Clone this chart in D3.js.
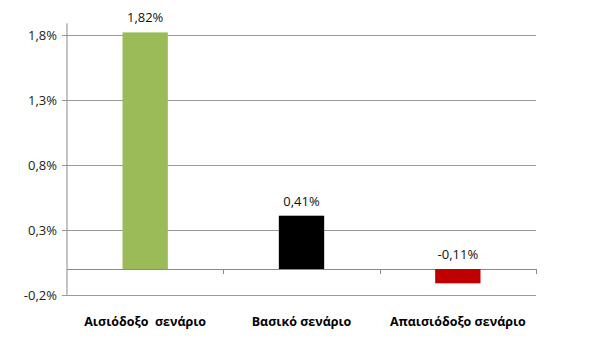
<!DOCTYPE html>
<html>
<head>
<meta charset="utf-8">
<script src="https://cdn.jsdelivr.net/npm/d3@7/dist/d3.min.js"></script>
<style>
  html, body { margin: 0; padding: 0; background: #fff; }
  svg { display: block; }
  text { font-family: "Open Sans", "Liberation Sans", sans-serif; }
</style>
</head>
<body>
<svg id="chart" width="589" height="342"></svg>
<script>
// Scenario growth estimates (%)
const categories = ["Αισιόδοξο  σενάριο", "Βασικό σενάριο", "Απαισιόδοξο σενάριο"];
const values = [1.82, 0.41, -0.11];
const valueLabels = ["1,82%", "0,41%", "-0,11%"];
const colors = ["#9BBB59", "#000000", "#C00000"];
const yTicks = [-0.2, 0.3, 0.8, 1.3, 1.8];
const yTickLabels = ["-0,2%", "0,3%", "0,8%", "1,3%", "1,8%"];

const svg = d3.select("#chart");
const left = 67, right = 536;
const y = d3.scaleLinear().domain([-0.2, 1.8]).range([295, 35]);
const x = d3.scaleBand().domain(categories).range([left, right]);
const barW = x.bandwidth() * 0.29;

// horizontal gridlines with left tick marks
const yAxis = d3.axisLeft(y).tickValues(yTicks)
  .tickFormat((d, i) => yTickLabels[i])
  .tickSize(-(right - left)).tickSizeOuter(0).tickPadding(10);
const gy = svg.append("g").attr("transform", `translate(${left},0)`).call(yAxis);
gy.select(".domain").remove();
gy.selectAll(".tick line").attr("stroke", "#9a9a9a").attr("x1", -5);
gy.selectAll(".tick text").attr("fill", "#222").style("font-size", "13px");

// vertical value axis line
svg.append("line")
  .attr("x1", left).attr("x2", left)
  .attr("y1", y(1.89)).attr("y2", y(-0.2))
  .attr("stroke", "#8a8a8a");

// category axis on the zero line
const xAxis = d3.axisBottom(x).tickValues([]).tickSizeOuter(0);
const gx = svg.append("g").attr("transform", `translate(0,${y(0)})`).call(xAxis);
gx.select(".domain").attr("stroke", "#8a8a8a").attr("d", `M${left},0.5H${right}`);
// category separators below zero line
gx.selectAll(".sep").data(categories.slice(1).concat(["end"]))
  .enter().append("line")
  .attr("x1", (d, i) => Math.round(left + x.step() * (i + 1)) + 0.5)
  .attr("x2", (d, i) => Math.round(left + x.step() * (i + 1)) + 0.5)
  .attr("y1", 0).attr("y2", 5)
  .attr("stroke", "#8a8a8a");

// bars
svg.selectAll("rect.bar").data(values).enter().append("rect")
  .attr("class", "bar")
  .attr("x", (d, i) => x(categories[i]) + x.bandwidth() / 2 - barW / 2)
  .attr("width", barW)
  .attr("y", d => y(Math.max(d, 0)))
  .attr("height", d => Math.abs(y(d) - y(0)))
  .attr("fill", (d, i) => colors[i]);

// value labels
svg.selectAll("text.val").data(values).enter().append("text")
  .attr("class", "val")
  .attr("x", (d, i) => x(categories[i]) + x.bandwidth() / 2)
  .attr("y", d => y(Math.max(d, 0)) - 10)
  .attr("text-anchor", "middle")
  .attr("fill", "#111")
  .style("font-size", "13px")
  .text((d, i) => valueLabels[i]);

// category labels
svg.selectAll("text.cat").data(categories).enter().append("text")
  .attr("class", "cat")
  .attr("x", d => x(d) + x.bandwidth() / 2)
  .attr("y", 326)
  .attr("text-anchor", "middle")
  .attr("fill", "#000")
  .style("font-size", "12.5px")
  .style("font-weight", "bold")
  .style("white-space", "pre")
  .text(d => d);
</script>
</body>
</html>
